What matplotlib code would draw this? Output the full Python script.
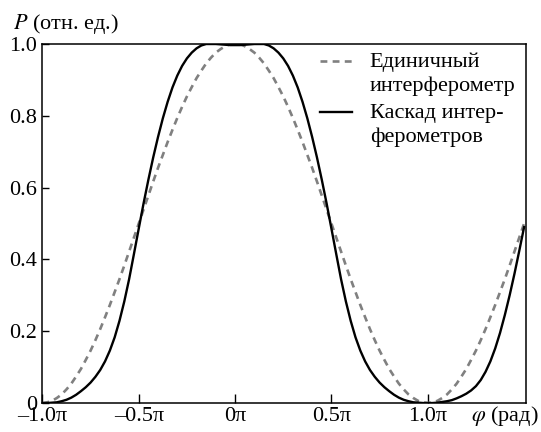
import matplotlib
matplotlib.use('Agg')
import matplotlib.pyplot as plt
import numpy as np

# phase in units of pi, sampled every 0.025 pi from -1.0 to 1.5
phi = np.linspace(-1.0, 1.5, 101)

# single interferometer (dashed)
p_single = [0.000, 0.002, 0.006, 0.014, 0.024, 0.038, 0.054, 0.074, 0.095, 0.120,
            0.146, 0.175, 0.206, 0.239, 0.273, 0.309, 0.345, 0.383, 0.422, 0.461,
            0.500, 0.539, 0.578, 0.617, 0.655, 0.691, 0.727, 0.761, 0.794, 0.825,
            0.854, 0.880, 0.905, 0.926, 0.946, 0.962, 0.976, 0.986, 0.994, 1.000,
            1.000,
            1.000, 0.994, 0.986, 0.976, 0.962, 0.946, 0.926, 0.905, 0.880, 0.854,
            0.825, 0.794, 0.761, 0.727, 0.691, 0.655, 0.617, 0.578, 0.539, 0.500,
            0.461, 0.422, 0.383, 0.345, 0.309, 0.273, 0.239, 0.206, 0.175, 0.146,
            0.120, 0.095, 0.074, 0.054, 0.038, 0.024, 0.014, 0.006, 0.002, 0.000,
            0.002, 0.006, 0.014, 0.024, 0.038, 0.054, 0.074, 0.095, 0.120, 0.146,
            0.175, 0.206, 0.239, 0.273, 0.309, 0.345, 0.383, 0.422, 0.461, 0.500]

# cascade of interferometers (solid)
p_cascade = [0.000, 0.000, 0.001, 0.002, 0.005, 0.009, 0.015, 0.023, 0.033, 0.044,
             0.057, 0.073, 0.092, 0.116, 0.146, 0.183, 0.229, 0.283, 0.345, 0.415,
             0.486, 0.556, 0.622, 0.684, 0.741, 0.793, 0.839, 0.879, 0.912, 0.939,
             0.960, 0.976, 0.988, 0.996, 1.000, 1.000, 1.000, 0.999, 0.998, 0.997,
             0.997,
             0.997, 0.998, 0.999, 1.000, 1.000, 1.000, 0.996, 0.988, 0.976, 0.960,
             0.939, 0.912, 0.879, 0.839, 0.793, 0.741, 0.684, 0.622, 0.556, 0.486,
             0.415, 0.345, 0.283, 0.229, 0.183, 0.146, 0.116, 0.092, 0.073, 0.057,
             0.044, 0.033, 0.023, 0.015, 0.009, 0.005, 0.002, 0.001, 0.000, 0.000,
             0.000, 0.001, 0.003, 0.005, 0.008, 0.013, 0.019, 0.026, 0.035, 0.047,
             0.064, 0.087, 0.116, 0.152, 0.195, 0.245, 0.300, 0.360, 0.424, 0.490]

xticks = [-1.0, -0.5, 0.0, 0.5, 1.0]
xtick_labels = ['\u20131.0\u03c0', '\u20130.5\u03c0', '0\u03c0', '0.5\u03c0', '1.0\u03c0']
yticks = [0, 0.2, 0.4, 0.6, 0.8, 1.0]
ytick_labels = ['0', '0.2', '0.4', '0.6', '0.8', '1.0']

plt.rcParams['font.family'] = ['Liberation Serif', 'DejaVu Serif']
plt.rcParams['mathtext.fontset'] = 'stix'
plt.rcParams['font.size'] = 16

fig = plt.figure(figsize=(5.41, 4.32), dpi=100)
ax = fig.add_axes([0.0784, 0.0671, 0.8939, 0.8310])

ax.plot(phi, p_single, color='#808080', lw=1.9, dashes=(2.6, 2.0))
ax.plot(phi, p_cascade, color='black', lw=1.7)

ax.set_xlim(-1.0, 1.51)
ax.set_ylim(0, 1.0)
ax.set_xticks(xticks)
ax.set_xticklabels(xtick_labels)
ax.set_yticks(yticks)
ax.set_yticklabels(ytick_labels)
ax.tick_params(axis='x', direction='in', length=6.5, width=1, pad=3)
ax.tick_params(axis='y', direction='in', length=5, width=1, pad=4)
for s in ax.spines.values():
    s.set_linewidth(1.1)

# legend drawn by hand to keep handles on the first text line
tr = ax.transAxes
ax.plot([0.574, 0.640], [0.953, 0.953], transform=tr, color='#808080', lw=1.9,
        dashes=(2.6, 2.0), clip_on=False)
ax.text(0.677, 0.916, 'Единичный\nинтерферометр', transform=tr, ha='left', va='center',
        linespacing=1.3)
ax.plot([0.574, 0.640], [0.81, 0.81], transform=tr, color='black', lw=1.7, clip_on=False)
ax.text(0.677, 0.773, 'Каскад интер-\nферометров', transform=tr, ha='left', va='center',
        linespacing=1.3)

fig.text(13 / 541, 1 - 24 / 432, '$P$ (отн. ед.)', ha='left', va='center')
fig.text(539 / 541, 1 - 416 / 432, r'$\varphi$ (рад)', ha='right', va='center')

fig.savefig('out.png', dpi=100)
